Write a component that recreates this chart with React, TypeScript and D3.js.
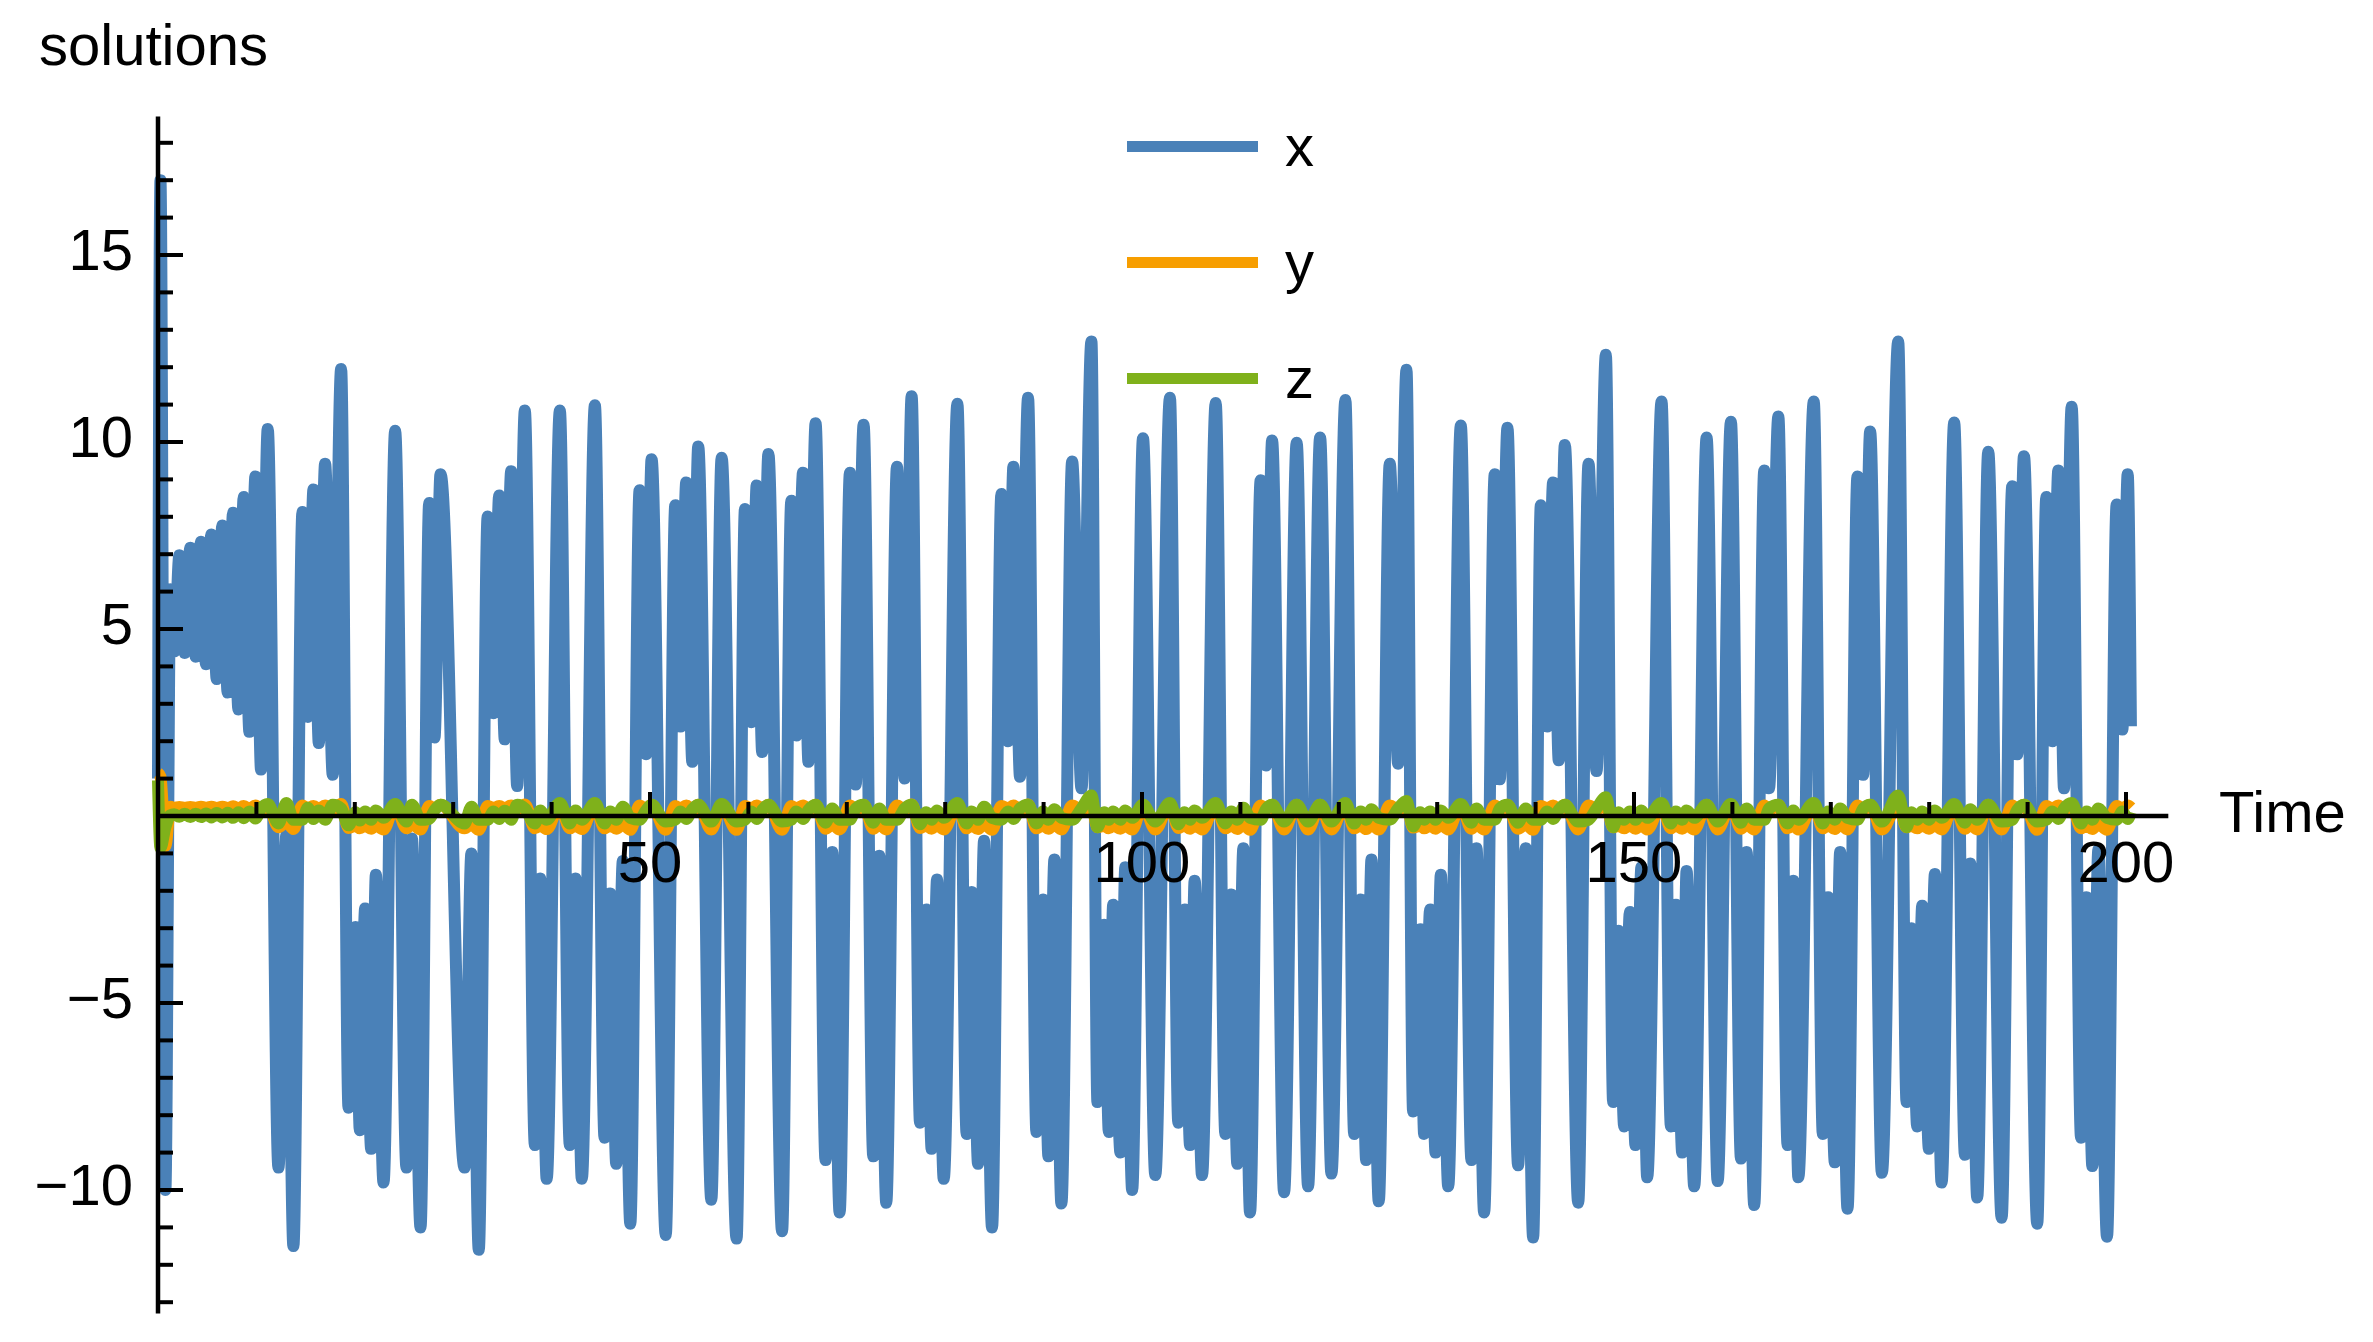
import React, { useEffect, useRef } from "react";
import * as d3 from "d3";

// turning points of the solution (one line per lobe visit)
const time = [
  0, 0.25, 0.75,
  1.25, 1.66, 2.17, 2.71, 3.29, 3.83, 4.37, 4.88, 5.42, 5.97, 6.54, 7.08, 7.63, 8.17, 8.71, 9.29, 9.9, 10.47, 11.15,
  12.24, 13.05, 13.76,
  14.68, 15.22, 15.8, 16.34, 16.98, 17.76, 18.61,
  19.36, 20.07, 20.51, 21.05, 21.66, 22.14, 22.92,
  24.1,
  25.25, 25.8, 26.68,
  27.56, 28.1, 28.71,
  31.15, 31.85, 32.6,
  33.5, 34.1, 34.67, 35.24, 35.89, 36.5, 37.28,
  38.3, 38.84, 39.5,
  40.84,
  41.85, 42.43, 43.07,
  44.4,
  45.38, 45.96, 46.57, 47.24, 48.0,
  48.94, 49.6, 50.16,
  51.6,
  52.57, 53.1, 53.68, 54.3, 54.9,
  56.23,
  57.28,
  58.8,
  59.65, 60.3, 60.84, 61.4, 62.03,
  63.42,
  64.36, 64.87, 65.55, 66.1, 66.83,
  67.84, 68.52, 69.27,
  70.32, 70.9, 71.71,
  72.69, 73.3, 74.01,
  75.1, 75.88, 76.59,
  77.44, 78.08, 78.62, 79.17, 79.85,
  81.24,
  82.18, 82.69, 83.34, 83.95, 84.76,
  85.71, 86.39, 86.93, 87.6, 88.42,
  89.27, 89.95, 90.49, 91.1, 91.81,
  92.9, 93.85, 94.86,
  95.47, 96.15, 96.63, 97.07, 97.81, 98.3, 99.0,
  100.1,
  101.35,
  102.84,
  103.69, 104.33, 104.88, 105.35, 106.1,
  107.49,
  108.47, 109.08, 109.69, 110.3, 110.98,
  112.06, 112.6, 113.22,
  114.44,
  115.72,
  116.88,
  118.1,
  119.25,
  120.67,
  121.56, 122.23, 122.78, 123.32, 124.06,
  125.18, 126.03, 126.88,
  127.55, 128.27, 128.67, 129.28, 129.83, 130.37, 131.12,
  132.4,
  133.48, 133.99, 134.77,
  135.85, 136.36, 137.14,
  138.22, 139.0, 139.75,
  140.53, 141.17, 141.78, 142.35, 142.97,
  144.33,
  145.38, 146.19, 147.14,
  147.88, 148.44, 149.0, 149.58, 150.15, 150.75, 151.34,
  152.8,
  153.75, 154.26, 154.9, 155.34, 156.12,
  157.38,
  158.5,
  159.85,
  160.87, 161.44, 162.22,
  163.24, 163.72, 164.67,
  165.61, 166.19, 166.7,
  168.27,
  169.19, 169.73, 170.41, 170.95, 171.7,
  172.71, 173.29, 174.0,
  175.19,
  176.85,
  177.7, 178.2, 178.78, 179.29, 179.97, 180.58, 181.26,
  182.54,
  183.63, 184.17, 184.88,
  186.0,
  187.36,
  188.44, 188.95, 189.63,
  190.98,
  191.9, 192.51, 193.12, 193.7, 194.48,
  195.43, 196.0, 196.58, 197.19, 198.07,
  199.05, 199.63, 200.17, 200.5,
];

const xs = [
  1.0, 17.0, -10.0,
  6.06, 4.4, 6.97, 4.36, 7.17, 4.26, 7.33, 4.06, 7.53, 3.66, 7.77, 3.3, 8.11, 2.85, 8.53, 2.25, 9.08, 1.24, 10.35,
  -9.4, -0.5, -11.5,
  8.13, 2.65, 8.73, 1.95, 9.42, 1.1, 11.95,
  -7.8, -2.97, -8.4, -2.47, -8.9, -1.57, -9.8,
  10.3,
  -9.4, -0.6, -11.0,
  8.37, 2.1, 9.14,
  -9.4, -1.0, -11.6,
  8.01, 2.75, 8.57, 2.05, 9.22, 0.8, 10.84,
  -8.8, -1.67, -9.7,
  10.84,
  -8.8, -1.67, -9.7,
  10.98,
  -8.6, -2.07, -9.3, -1.2, -10.9,
  8.71, 1.65, 9.54,
  -11.2,
  8.31, 2.39, 8.92, 1.45, 9.88,
  -10.26,
  9.58,
  -11.3,
  8.21, 2.51, 8.84, 1.71, 9.68,
  -11.1,
  8.43, 2.15, 9.18, 1.45, 10.5,
  -9.2, -0.96, -10.6,
  9.18, 0.84, 10.46,
  -9.1, -1.06, -10.34,
  9.34, 1.0, 11.22,
  -8.2, -2.5, -8.9, -1.7, -9.7,
  11.02,
  -8.5, -2.03, -9.3, -0.66, -11.0,
  8.61, 2.0, 9.34, 1.05, 11.18,
  -8.45, -2.23, -9.1, -1.16, -10.36,
  9.48, 0.74, 12.69,
  -7.65, -2.91, -8.45, -2.37, -9.0, -1.37, -10.0,
  10.1,
  -9.6,
  11.18,
  -8.2, -2.5, -8.8, -1.73, -9.6,
  11.04,
  -8.5, -2.1, -9.3, -0.86, -10.6,
  8.98, 1.35, 10.04,
  -10.06,
  9.98,
  -9.9,
  10.12,
  -9.56,
  11.12,
  -8.5, -2.23, -9.2, -1.16, -10.3,
  9.42, 1.4, 11.93,
  -7.9, -3.03, -8.5, -2.5, -9.0, -1.57, -9.9,
  10.44,
  -9.2, -0.86, -10.6,
  9.14, 0.98, 10.38,
  -9.34, -0.86, -11.27,
  8.31, 2.39, 8.92, 1.49, 9.92,
  -10.34,
  9.42, 1.2, 12.33,
  -7.65, -3.07, -8.3, -2.57, -8.8, -1.37, -9.66,
  11.08,
  -8.3, -2.37, -9.0, -1.47, -9.9,
  10.12,
  -9.76,
  10.54,
  -9.16, -0.96, -10.4,
  9.24, 0.74, 10.68,
  -8.8, -1.73, -9.66,
  11.08,
  -8.5, -2.17, -9.26, -0.96, -10.5,
  9.08, 1.1, 10.28,
  -9.54,
  12.69,
  -7.65, -3.0, -8.3, -2.4, -8.9, -1.55, -9.8,
  10.52,
  -9.06, -1.27, -10.2,
  9.74,
  -10.74,
  8.82, 1.65, 9.62,
  -10.9,
  8.53, 2.0, 9.24, 0.74, 10.94,
  -8.6, -2.17, -9.36, -0.9, -11.25,
  8.33, 2.31, 9.14, 2.4,
];

const ys = [
  1.15, 1.05, -0.8,
  0.25, 0.22, 0.24, 0.22, 0.24, 0.22, 0.25, 0.22, 0.25, 0.21, 0.25, 0.21, 0.26, 0.2, 0.27, 0.19, 0.28, 0.16, 0.3,
  -0.3, -0.15, -0.35,
  0.28, 0.2, 0.27, 0.19, 0.28, 0.15, 0.32,
  -0.32, -0.26, -0.33, -0.26, -0.34, -0.24, -0.36,
  0.3,
  -0.33, -0.2, -0.36,
  0.27, 0.2, 0.3,
  -0.33, -0.22, -0.37,
  0.27, 0.21, 0.27, 0.2, 0.28, 0.16, 0.31,
  -0.33, -0.24, -0.35,
  0.3,
  -0.33, -0.24, -0.35,
  0.3,
  -0.33, -0.25, -0.34, -0.22, -0.37,
  0.28, 0.19, 0.3,
  -0.37,
  0.27, 0.2, 0.28, 0.18, 0.3,
  -0.36,
  0.3,
  -0.37,
  0.27, 0.2, 0.28, 0.18, 0.3,
  -0.37,
  0.27, 0.2, 0.28, 0.18, 0.3,
  -0.34, -0.22, -0.36,
  0.28, 0.17, 0.3,
  -0.34, -0.22, -0.36,
  0.28, 0.17, 0.31,
  -0.32, -0.25, -0.34, -0.23, -0.36,
  0.3,
  -0.33, -0.25, -0.35, -0.2, -0.37,
  0.27, 0.2, 0.28, 0.17, 0.31,
  -0.33, -0.25, -0.34, -0.22, -0.36,
  0.28, 0.16, 0.32,
  -0.3, -0.26, -0.33, -0.25, -0.34, -0.23, -0.36,
  0.3,
  -0.36,
  0.31,
  -0.32, -0.25, -0.34, -0.23, -0.36,
  0.31,
  -0.33, -0.25, -0.35, -0.21, -0.37,
  0.28, 0.18, 0.3,
  -0.36,
  0.3,
  -0.36,
  0.3,
  -0.36,
  0.31,
  -0.33, -0.25, -0.35, -0.22, -0.36,
  0.28, 0.17, 0.31,
  -0.31, -0.26, -0.33, -0.25, -0.34, -0.23, -0.36,
  0.3,
  -0.34, -0.21, -0.36,
  0.28, 0.17, 0.3,
  -0.34, -0.21, -0.37,
  0.27, 0.2, 0.28, 0.18, 0.3,
  -0.36,
  0.28, 0.17, 0.32,
  -0.3, -0.26, -0.33, -0.25, -0.34, -0.23, -0.36,
  0.31,
  -0.33, -0.25, -0.34, -0.23, -0.36,
  0.3,
  -0.36,
  0.3,
  -0.34, -0.21, -0.36,
  0.28, 0.16, 0.3,
  -0.33, -0.23, -0.36,
  0.31,
  -0.33, -0.25, -0.35, -0.21, -0.36,
  0.28, 0.17, 0.3,
  -0.36,
  0.32,
  -0.3, -0.26, -0.33, -0.25, -0.34, -0.23, -0.36,
  0.3,
  -0.34, -0.22, -0.36,
  0.3,
  -0.36,
  0.28, 0.18, 0.3,
  -0.37,
  0.27, 0.2, 0.28, 0.16, 0.31,
  -0.33, -0.25, -0.35, -0.21, -0.37,
  0.27, 0.2, 0.28, 0.22,
];

const zs = [
  0.95, -0.85, -0.3,
  0.02, 0.05, -0.02, 0.06, -0.03, 0.06, -0.03, 0.07, -0.04, 0.08, -0.04, 0.09, -0.05, 0.1, -0.06, 0.12, -0.07, 0.2, 0.32,
  -0.2, 0.35, -0.1,
  -0.1, 0.22, -0.08, 0.15, -0.1, 0.3, 0.2,
  -0.25, 0.1, -0.12, 0.12, -0.1, 0.15, -0.05,
  0.32,
  -0.15, 0.3, -0.1,
  -0.08, 0.15, 0.3,
  -0.2, 0.25, -0.1,
  -0.1, 0.12, -0.08, 0.14, -0.1, 0.3, 0.2,
  -0.2, 0.15, -0.1,
  0.35,
  -0.2, 0.15, -0.1,
  0.35,
  -0.2, 0.12, -0.1, 0.25, -0.05,
  -0.1, 0.15, 0.3,
  -0.15,
  -0.1, 0.12, -0.08, 0.18, 0.3,
  -0.15,
  0.32,
  -0.15,
  -0.1, 0.12, -0.08, 0.16, 0.3,
  -0.15,
  -0.1, 0.12, -0.08, 0.16, 0.3,
  -0.18, 0.2, -0.1,
  -0.1, 0.2, 0.3,
  -0.18, 0.2, -0.1,
  -0.1, 0.2, 0.3,
  -0.22, 0.1, -0.1, 0.15, -0.05,
  0.35,
  -0.2, 0.12, -0.1, 0.25, -0.05,
  -0.1, 0.12, -0.08, 0.2, 0.3,
  -0.2, 0.12, -0.1, 0.18, -0.05,
  -0.1, 0.2, 0.55,
  -0.3, 0.1, -0.1, 0.12, -0.1, 0.15, -0.05,
  0.3,
  -0.15,
  0.35,
  -0.22, 0.1, -0.1, 0.15, -0.05,
  0.35,
  -0.2, 0.12, -0.1, 0.22, -0.05,
  -0.1, 0.18, 0.3,
  -0.15,
  0.3,
  -0.15,
  0.3,
  -0.15,
  0.35,
  -0.2, 0.12, -0.1, 0.18, -0.05,
  -0.1, 0.2, 0.4,
  -0.28, 0.1, -0.1, 0.12, -0.1, 0.15, -0.05,
  0.32,
  -0.18, 0.2, -0.1,
  -0.1, 0.2, 0.3,
  -0.18, 0.2, -0.1,
  -0.1, 0.12, -0.08, 0.16, 0.3,
  -0.15,
  -0.1, 0.2, 0.5,
  -0.3, 0.1, -0.1, 0.12, -0.1, 0.15, -0.05,
  0.35,
  -0.2, 0.12, -0.1, 0.15, -0.05,
  0.3,
  -0.15,
  0.32,
  -0.18, 0.2, -0.1,
  -0.1, 0.2, 0.3,
  -0.2, 0.15, -0.1,
  0.35,
  -0.2, 0.12, -0.1, 0.2, -0.05,
  -0.1, 0.2, 0.3,
  -0.15,
  0.55,
  -0.3, 0.1, -0.1, 0.12, -0.1, 0.15, -0.05,
  0.32,
  -0.18, 0.18, -0.1,
  0.3,
  -0.15,
  -0.1, 0.16, 0.3,
  -0.15,
  -0.1, 0.12, -0.08, 0.2, 0.35,
  -0.2, 0.12, -0.1, 0.2, -0.05,
  -0.1, 0.12, -0.08, 0.1,
];

const seriesNames = ["x", "y", "z"];
const seriesColors = ["#4a81b8", "#f79e00", "#7fb11b"];
const xTickLabels = [50, 100, 150, 200];
const yTickLabels = [-10, -5, 5, 10, 15];

const W = 2373;
const H = 1342;
const FONT = "'Liberation Sans', Arial, Helvetica, sans-serif";
const FS = 58;
const LW = 12;
const LEGEND_LW = 11;

const App = () => {
  const ref = useRef<SVGSVGElement>(null);

  useEffect(() => {
    const svg = d3.select(ref.current);
    svg.selectAll("*").remove();

    const x = d3.scaleLinear().domain([0, 200]).range([158, 2126]);
    const y = d3.scaleLinear().domain([0, 15]).range([816, 255]);

    // smooth through the turning points, flat at each extreme
    const line = d3
      .line<number>()
      .x((_, i) => x(time[i]))
      .y(v => y(v))
      .curve(d3.curveMonotoneX);

    [xs, ys, zs].forEach((s, k) => {
      svg
        .append("path")
        .datum(s)
        .attr("d", line)
        .attr("fill", "none")
        .attr("stroke", seriesColors[k])
        .attr("stroke-width", LW);
    });

    // axes drawn over the curves
    const ax = svg.append("g").attr("stroke", "#000");
    ax.append("line")
      .attr("x1", x(0)).attr("x2", x(204.3))
      .attr("y1", y(0)).attr("y2", y(0))
      .attr("stroke-width", 4.5);
    ax.append("line")
      .attr("x1", x(0)).attr("x2", x(0))
      .attr("y1", y(18.7)).attr("y2", y(-13.3))
      .attr("stroke-width", 4.5);

    const xMinor = x.ticks(20).filter(t => t > 0 && !xTickLabels.includes(t));
    const yMinor = d3.range(-13, 19).filter(t => t !== 0 && !yTickLabels.includes(t));

    ax.selectAll(".xmaj").data(xTickLabels).join("line")
      .attr("x1", d => x(d)).attr("x2", d => x(d))
      .attr("y1", y(0)).attr("y2", y(0) - 24)
      .attr("stroke-width", 4);
    ax.selectAll(".xmin").data(xMinor).join("line")
      .attr("x1", d => x(d)).attr("x2", d => x(d))
      .attr("y1", y(0)).attr("y2", y(0) - 14)
      .attr("stroke-width", 4);
    ax.selectAll(".ymaj").data(yTickLabels).join("line")
      .attr("x1", x(0)).attr("x2", x(0) + 25)
      .attr("y1", d => y(d)).attr("y2", d => y(d))
      .attr("stroke-width", 4);
    ax.selectAll(".ymin").data(yMinor).join("line")
      .attr("x1", x(0)).attr("x2", x(0) + 15)
      .attr("y1", d => y(d)).attr("y2", d => y(d))
      .attr("stroke-width", 4);

    const txt = svg.append("g").attr("font-family", FONT).attr("font-size", FS).attr("fill", "#000");

    txt.selectAll(".xl").data(xTickLabels).join("text")
      .attr("x", d => x(d)).attr("y", y(0) + 66)
      .attr("text-anchor", "middle")
      .text(d => String(d));
    txt.selectAll(".yl").data(yTickLabels).join("text")
      .attr("x", 133).attr("y", d => y(d) + 15)
      .attr("text-anchor", "end")
      .text(d => (d < 0 ? "\u2212" + Math.abs(d) : String(d)));

    txt.append("text").attr("x", 39).attr("y", 65).text("solutions");
    txt.append("text").attr("x", 2219).attr("y", y(0) + 16).text("Time");

    // legend
    const lg = svg.append("g");
    seriesNames.forEach((name, k) => {
      const cy = 146.5 + k * 116;
      lg.append("line")
        .attr("x1", 1127).attr("x2", 1258)
        .attr("y1", cy).attr("y2", cy)
        .attr("stroke", seriesColors[k])
        .attr("stroke-width", LEGEND_LW);
      lg.append("text")
        .attr("x", 1285).attr("y", cy + 19)
        .attr("font-family", FONT).attr("font-size", FS)
        .text(name);
    });
  }, []);

  return (
    <svg
      ref={ref}
      width={W}
      height={H}
      style={{ position: "absolute", left: 0, top: 0, background: "#fff" }}
    />
  );
};

export default App;
